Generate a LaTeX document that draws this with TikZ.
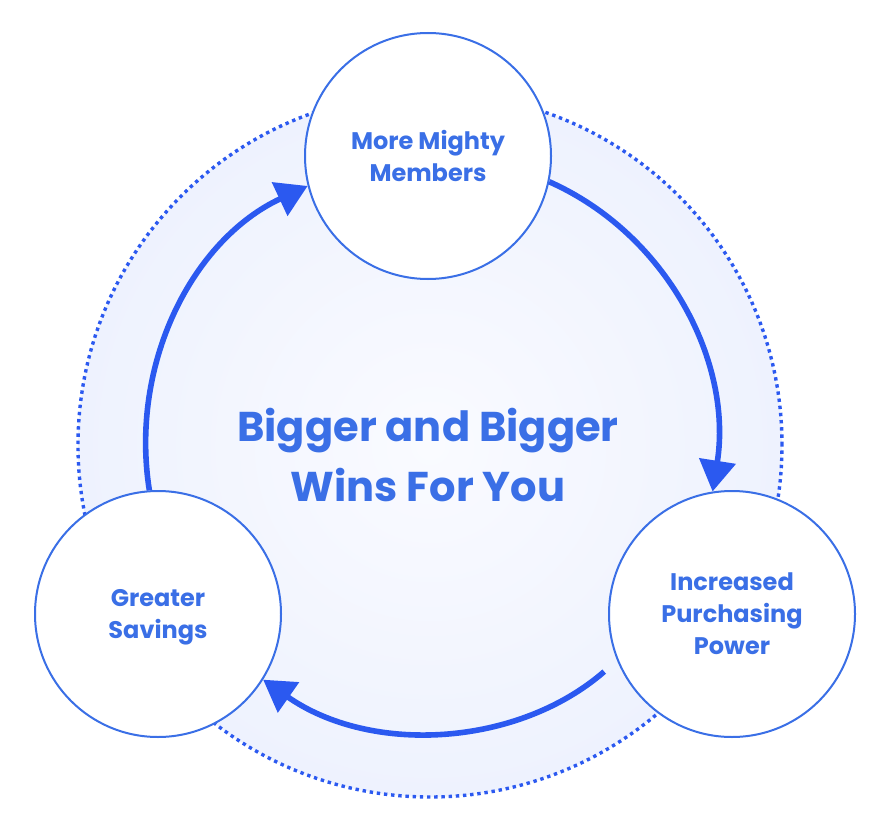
\documentclass[tikz,border=0pt]{standalone}
\usepackage{fontspec}
\setmainfont{Poppins}
\usepackage{tikz}
\usetikzlibrary{shapes.geometric, arrows.meta}
\definecolor{brand}{HTML}{3A6FE6}
\definecolor{arrowblue}{HTML}{2B59F0}
\definecolor{haze}{HTML}{EEF2FE}
\definecolor{mist}{HTML}{FAFBFF}
\tikzstyle{ring} = [circle, draw=arrowblue, line width=1.7pt, dash pattern=on 1.7pt off 1.9pt, inner color=mist, outer color=haze, minimum size=352pt, inner sep=0pt]
\tikzstyle{stage} = [circle, draw=brand, line width=1pt, fill=white, text=brand, minimum size=123pt, inner sep=0pt, text depth=0pt, align=center, font=\bfseries\fontsize{12}{16}\selectfont]
\tikzstyle{headline} = [text=brand, align=center, font=\bfseries\fontsize{20.8}{30}\selectfont]
\tikzstyle{cycle} = [line width=2.8pt, color=arrowblue, looseness=0.95, -{Triangle[length=15.5pt, width=18pt]}]

\begin{document}
\begin{tikzpicture}[x=0.5pt, y=0.5pt]
\useasboundingbox (0,0) rectangle (889,832);

\node (ring) [ring] at (430,387) {};

\node (members) [stage] at (428,676) {More Mighty\\Members};
\node (power) [stage] at (732,218) {Increased\\Purchasing\\Power};
\node (savings) [stage] at (158,218) {Greater\\Savings};

\node (wins) [headline] at (428,377) {Bigger and Bigger\\Wins For You};

\draw[cycle] (members.-12) to[out=-24, in=81] (power.99);
\draw[cycle, shorten <=8.5pt] (power.202) to[out=221, in=-35] (savings.-32);
\draw[cycle] (savings.94) to[out=99, in=205] (members.194);

\end{tikzpicture}
\end{document}
